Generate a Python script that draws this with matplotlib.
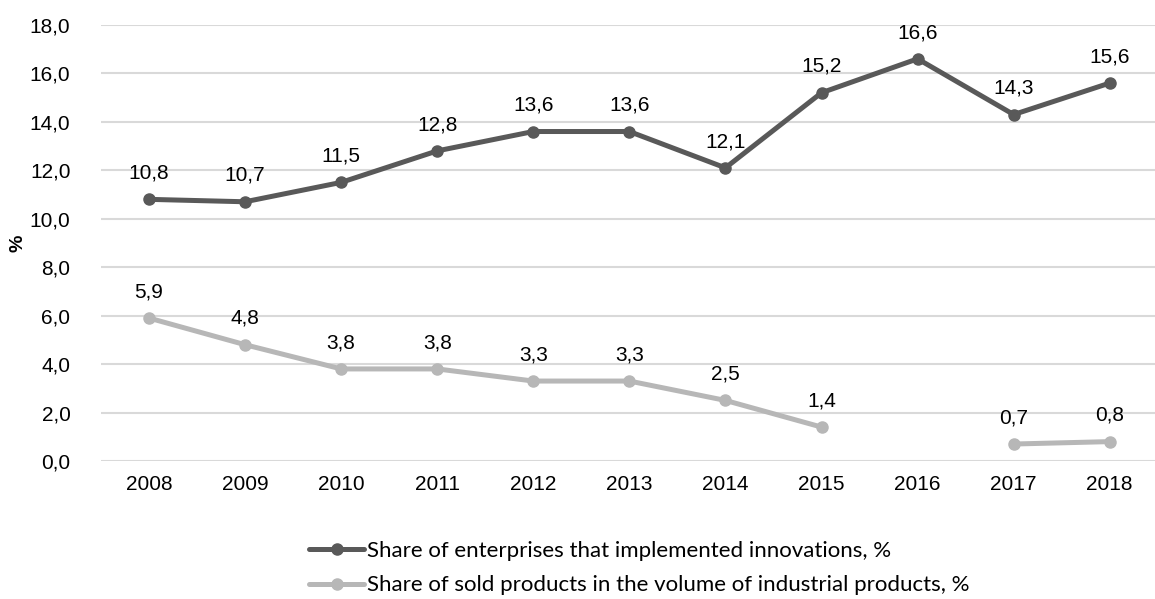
import numpy as np
import matplotlib.pyplot as plt
from matplotlib.ticker import FuncFormatter

years = ["2008", "2009", "2010", "2011", "2012", "2013", "2014", "2015", "2016", "2017", "2018"]
innov = [10.8, 10.7, 11.5, 12.8, 13.6, 13.6, 12.1, 15.2, 16.6, 14.3, 15.6]
sold = [5.9, 4.8, 3.8, 3.8, 3.3, 3.3, 2.5, 1.4, np.nan, 0.7, 0.8]
names = ["Share of enterprises that implemented innovations, %",
         "Share of sold products in the volume of industrial products, %"]

narrow = ["Liberation Sans Narrow", "Liberation Sans", "DejaVu Sans"]
plt.rcParams["font.family"] = narrow

fig = plt.figure(figsize=(11.55, 5.99), dpi=100)
ax = fig.add_axes([0.0874, 0.2304, 0.915, 0.728])

x = np.arange(len(years))
colors = ["#595959", "#B7B7B7"]
for vals, c, name in zip([innov, sold], colors, names):
    ax.plot(x, vals, color=c, lw=3.6, marker="o", ms=8, label=name,
            solid_capstyle="round")
    for xi, v in zip(x, vals):
        if np.isnan(v):
            continue
        ax.annotate(f"{v:.1f}".replace(".", ","), (xi, v), xytext=(0, 15),
                    textcoords="offset points", ha="center", va="baseline",
                    fontsize=15, color="#000000")

ax.set_xlim(-0.5, len(years) - 0.5)
ax.set_ylim(0, 18)
ax.set_yticks(np.arange(0, 18.1, 2))
ax.yaxis.set_major_formatter(FuncFormatter(lambda v, p: f"{v:.1f}".replace(".", ",")))
ax.set_xticks(x)
ax.set_xticklabels(years)
ax.tick_params(axis="both", length=0, labelsize=15, colors="#000000")
ax.tick_params(axis="x", pad=10)
ax.tick_params(axis="y", pad=22)
ax.grid(axis="y", color="#D9D9D9", lw=1.5)
ax.set_axisbelow(True)
for s in ax.spines.values():
    s.set_visible(False)

fig.text(18 / 1155, 1 - 243 / 599, "%", rotation=90, ha="center", va="center",
         fontsize=14, fontweight="bold", family=["Liberation Sans", "DejaVu Sans"])

fig.legend(loc="center", bbox_to_anchor=(639 / 1155, 1 - 568 / 599), ncol=1,
           frameon=False, handlelength=2.5, handletextpad=0.1, labelspacing=0.66,
           borderaxespad=0, borderpad=0,
           prop={"family": ["Lato", "DejaVu Sans"], "size": 16})

fig.savefig("out.png", dpi=100)
